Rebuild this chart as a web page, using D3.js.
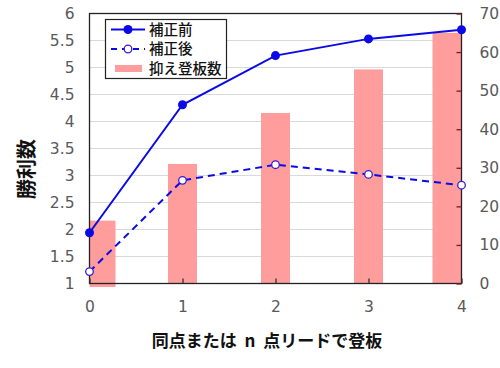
<!DOCTYPE html>
<html><head><meta charset="utf-8">
<script src="https://cdn.jsdelivr.net/npm/d3@7"></script>
<style>body{margin:0;background:#fff}svg{display:block}</style>
</head><body><svg id="c" width="500" height="368"></svg>
<script>
const categories = [0, 1, 2, 3, 4];
const beforeCorr = [1.94, 4.31, 5.22, 5.53, 5.70];
const afterCorr = [1.22, 2.91, 3.20, 3.02, 2.82];
const restrained = [16.3, 31, 44.2, 55.5, 65];
const leftTicks = [1, 1.5, 2, 2.5, 3, 3.5, 4, 4.5, 5, 5.5, 6];
const rightTicks = [0, 10, 20, 30, 40, 50, 60, 70];
const seriesNames = ["補正前", "補正後", "抑え登板数"];
const xTitle = "同点または n 点リードで登板";
const yTitle = "勝利数";

const L = 89.5, R = 461.5, T = 13.5, B = 283.5;
const svg = d3.select("#c");
const x = d3.scalePoint().domain(categories).range([L, R]);
const yL = d3.scaleLinear().domain([1, 6]).range([B, T]);
const yR = d3.scaleLinear().domain([0, 70]).range([B, T]);
const blue = "#0a0ae6", barCol = "#ff9c9c", tickCol = "#595959";
const numFont = "DejaVu Sans, Verdana, sans-serif";
const cjk = "'Noto Sans CJK JP', sans-serif";

// gridlines
svg.append("g").selectAll("line").data(leftTicks.filter(d => d > 1 && d < 6)).join("line")
  .attr("x1", L).attr("x2", R).attr("y1", d => yL(d)).attr("y2", d => yL(d))
  .attr("stroke", "#d9d9d9").attr("stroke-width", 1);

// bars
const bw = 29;
svg.append("g").selectAll("rect").data(restrained).join("rect")
  .attr("x", (d, i) => Math.min(Math.max(x(categories[i]) - bw / 2, L), R - bw))
  .attr("width", (d, i) => i === 0 ? bw - 3 : bw)
  .attr("y", d => yR(d))
  .attr("height", (d, i) => yR(0) - yR(d) + (i === 0 ? 3.5 : 0))
  .attr("fill", barCol);

// frame
svg.append("rect").attr("x", L).attr("y", T).attr("width", R - L).attr("height", B - T)
  .attr("fill", "none").attr("stroke", "#222").attr("stroke-width", 1.3);

// left axis
const ax = d3.axisLeft(yL).tickValues(leftTicks).tickFormat(d => String(d)).tickSize(0).tickPadding(15);
const gl = svg.append("g").attr("transform", `translate(${L},0)`).call(ax);
gl.select(".domain").remove();
gl.selectAll("text").attr("font-family", numFont).attr("font-size", 15.5).attr("fill", tickCol);

// right axis
const ar = d3.axisRight(yR).tickValues(rightTicks).tickFormat(d => String(d)).tickSize(-5).tickPadding(18);
const gr = svg.append("g").attr("transform", `translate(${R},0)`).call(ar);
gr.select(".domain").remove();
gr.selectAll("line").attr("stroke", "#7a1c1c").attr("stroke-width", 1.3);
gr.selectAll("text").attr("font-family", numFont).attr("font-size", 15.5).attr("fill", tickCol);

// bottom axis
const ab = d3.axisBottom(x).tickSize(-5).tickPadding(17);
const gb = svg.append("g").attr("transform", `translate(0,${B})`).call(ab);
gb.select(".domain").remove();
gb.selectAll("line").attr("stroke", "#333").attr("stroke-width", 1.3);
gb.selectAll("text").attr("font-family", numFont).attr("font-size", 15.5).attr("fill", tickCol);

// lines
const line = d3.line().x((d, i) => x(categories[i])).y(d => yL(d));
svg.append("path").datum(beforeCorr).attr("d", line).attr("fill", "none")
  .attr("stroke", blue).attr("stroke-width", 2);
svg.append("path").datum(afterCorr).attr("d", line).attr("fill", "none")
  .attr("stroke", blue).attr("stroke-width", 2).attr("stroke-dasharray", "7,5");
svg.append("g").selectAll("circle").data(beforeCorr).join("circle")
  .attr("cx", (d, i) => x(categories[i])).attr("cy", d => yL(d)).attr("r", 4.5).attr("fill", blue);
svg.append("g").selectAll("circle").data(afterCorr).join("circle")
  .attr("cx", (d, i) => x(categories[i])).attr("cy", d => yL(d)).attr("r", 3.8)
  .attr("fill", "#fff").attr("stroke", "#3a1ad6").attr("stroke-width", 1.3);

// legend
const lg = svg.append("g");
lg.append("rect").attr("x", 105.5).attr("y", 19.5).attr("width", 121).attr("height", 59)
  .attr("fill", "#fff").attr("stroke", "#222").attr("stroke-width", 1.2);
const rows = [29.5, 49, 68.5];
lg.append("line").attr("x1", 111).attr("x2", 145).attr("y1", rows[0]).attr("y2", rows[0])
  .attr("stroke", blue).attr("stroke-width", 2);
lg.append("circle").attr("cx", 128).attr("cy", rows[0]).attr("r", 4.5).attr("fill", blue);
lg.append("line").attr("x1", 111).attr("x2", 145).attr("y1", rows[1]).attr("y2", rows[1])
  .attr("stroke", blue).attr("stroke-width", 2).attr("stroke-dasharray", "6,5");
lg.append("circle").attr("cx", 128).attr("cy", rows[1]).attr("r", 3.8)
  .attr("fill", "#fff").attr("stroke", "#3a1ad6").attr("stroke-width", 1.3);
lg.append("rect").attr("x", 115).attr("y", rows[2] - 3.5).attr("width", 27).attr("height", 7).attr("fill", barCol);
lg.selectAll("text").data(seriesNames).join("text")
  .attr("x", 149).attr("y", (d, i) => rows[i]).attr("dy", "0.36em")
  .attr("font-family", cjk).attr("font-weight", 500).attr("font-size", 14.5).attr("fill", "#111").text(d => d);

// titles
svg.append("text").attr("x", 267).attr("y", 341).attr("dy", "0.36em").attr("text-anchor", "middle")
  .attr("font-family", cjk).attr("font-weight", "bold").attr("font-size", 17).attr("fill", "#111")
  .attr("xml:space", "preserve").style("white-space", "pre").text(xTitle.replace(" n ", "  n  "));
svg.append("text").attr("transform", "translate(27,169) rotate(-90)").attr("dy", "0.36em")
  .attr("text-anchor", "middle").attr("font-family", cjk).attr("font-weight", "bold")
  .attr("font-size", 20).attr("fill", "#111").text(yTitle);
</script></body></html>
